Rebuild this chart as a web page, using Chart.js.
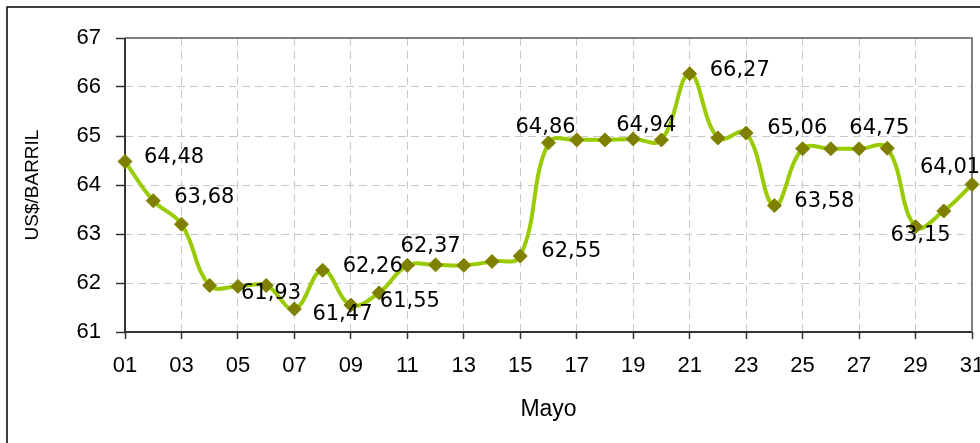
<!DOCTYPE html>
<html>
<head>
<meta charset="utf-8">
<script src="https://cdn.jsdelivr.net/npm/chart.js@4"></script>
<style>
  html, body { margin: 0; padding: 0; background: #fff; }
  #wrap { width: 980px; height: 443px; }
</style>
</head>
<body>
<div id="wrap"><canvas id="priceChart" width="980" height="443"></canvas></div>
<script>
// Days of May
const days = ["01", "02", "03", "04", "05", "06", "07", "08", "09", "10",
    "11", "12", "13", "14", "15", "16", "17", "18", "19", "20",
    "21", "22", "23", "24", "25", "26", "27", "28", "29", "30", "31"];

// Price in US$/barril
const prices = [64.48, 63.68, 63.20, 61.95, 61.93, 61.95, 61.47, 62.26, 61.55, 61.80,
    62.36, 62.37, 62.36, 62.44, 62.55, 64.86, 64.92, 64.92, 64.94, 64.92,
    66.27, 64.96, 65.06, 63.58, 64.74, 64.74, 64.74, 64.75, 63.15, 63.47, 64.01];

const yTicks = { min: 61, max: 67, step: 1 };
const xTitle = "Mayo";
const yTitle = "US$/BARRIL";

// which points carry a value label, and where the label sits relative to the point
const labelOffsets = {
    0: [19, -4], 1: [21, -3], 4: [3, 7], 6: [18, 6], 7: [20, -4], 8: [29, -4],
    11: [-35, -18], 14: [21, -5], 15: [-33, -15], 18: [-17, -13], 20: [20, -3],
    22: [21, -5], 23: [20, -4], 27: [-38, -20], 28: [-25, 9], 30: [-52, -17],
};

const tickFont = { family: "'Liberation Sans', Arial, sans-serif", size: 22 };

const framePlugin = {
    id: "frame",
    beforeDraw(chart) {
        const ctx = chart.ctx;
        ctx.save();
        ctx.fillStyle = "#fff";
        ctx.fillRect(0, 0, chart.width, chart.height);
        ctx.strokeStyle = "#000";
        ctx.lineWidth = 1.5;
        ctx.strokeRect(7, 7, 1200, 1200);
        ctx.restore();
    },
    beforeDatasetsDraw(chart) {
        const { ctx, chartArea: a } = chart;
        ctx.save();
        ctx.lineWidth = 2;
        ctx.strokeStyle = "#808080";
        ctx.beginPath();
        ctx.moveTo(a.left, a.top);
        ctx.lineTo(a.right, a.top);
        ctx.lineTo(a.right, a.bottom);
        ctx.stroke();
        ctx.strokeStyle = "#333";
        ctx.beginPath();
        ctx.moveTo(a.left, a.top);
        ctx.lineTo(a.left, a.bottom);
        ctx.lineTo(a.right, a.bottom);
        ctx.stroke();
        ctx.restore();
    },
};

const valueLabels = {
    id: "valueLabels",
    afterDatasetsDraw(chart) {
        const ctx = chart.ctx;
        const meta = chart.getDatasetMeta(0);
        ctx.save();
        ctx.font = "21px 'DejaVu Sans', Verdana, sans-serif";
        ctx.fillStyle = "#000";
        ctx.textAlign = "left";
        ctx.textBaseline = "middle";
        Object.entries(labelOffsets).forEach(([i, [dx, dy]]) => {
            const pt = meta.data[i];
            const text = prices[i].toFixed(2).replace(".", ",");
            ctx.fillText(text, pt.x + dx, pt.y + dy);
        });
        ctx.restore();
    },
};

new Chart(document.getElementById("priceChart"), {
    type: "line",
    data: {
        labels: days,
        datasets: [{
            data: prices,
            borderColor: "#99cc00",
            borderWidth: 4,
            tension: 0.4,
            pointStyle: "rectRot",
            pointRadius: 7,
            pointBackgroundColor: "#808000",
            pointBorderColor: "#808000",
            pointBorderWidth: 1,
            clip: false,
        }],
    },
    options: {
        responsive: false,
        animation: false,
        layout: { padding: { left: 0, right: 5, top: 38, bottom: 0 } },
        plugins: { legend: { display: false }, tooltip: { enabled: false } },
        scales: {
            x: {
                type: "linear",
                min: 1,
                max: 31,
                afterFit(scale) {
                    scale.height = 111;
                    scale.paddingLeft = 0;
                    scale.paddingRight = 0;
                },
                ticks: {
                    stepSize: 2,
                    autoSkip: false,
                    maxRotation: 0,
                    padding: 14,
                    color: "#000",
                    font: tickFont,
                    callback: v => String(v).padStart(2, "0"),
                },
                grid: { color: "#c8c8c8", tickLength: 7, tickColor: "#333", tickWidth: 1.5, tickBorderDash: [] },
                border: { display: false, dash: [8, 5] },
                title: {
                    display: true,
                    text: xTitle,
                    color: "#000",
                    font: { family: "'Liberation Sans', Arial, sans-serif", size: 23 },
                    padding: { top: 0, bottom: 20 },
                },
            },
            y: {
                min: yTicks.min,
                max: yTicks.max,
                afterFit(scale) {
                    scale.width = 125;
                    scale.paddingTop = 0;
                    scale.paddingBottom = 0;
                },
                ticks: {
                    stepSize: yTicks.step,
                    padding: 15,
                    color: "#000",
                    font: tickFont,
                },
                grid: { color: "#c8c8c8", tickLength: 9, tickColor: "#333", tickWidth: 1.5, tickBorderDash: [] },
                border: { display: false, dash: [8, 5] },
                title: {
                    display: true,
                    text: yTitle,
                    color: "#000",
                    font: { family: "'Liberation Sans', Arial, sans-serif", size: 19 },
                    padding: { top: 21, bottom: 0 },
                },
            },
        },
    },
    plugins: [framePlugin, valueLabels],
});
</script>
</body>
</html>
